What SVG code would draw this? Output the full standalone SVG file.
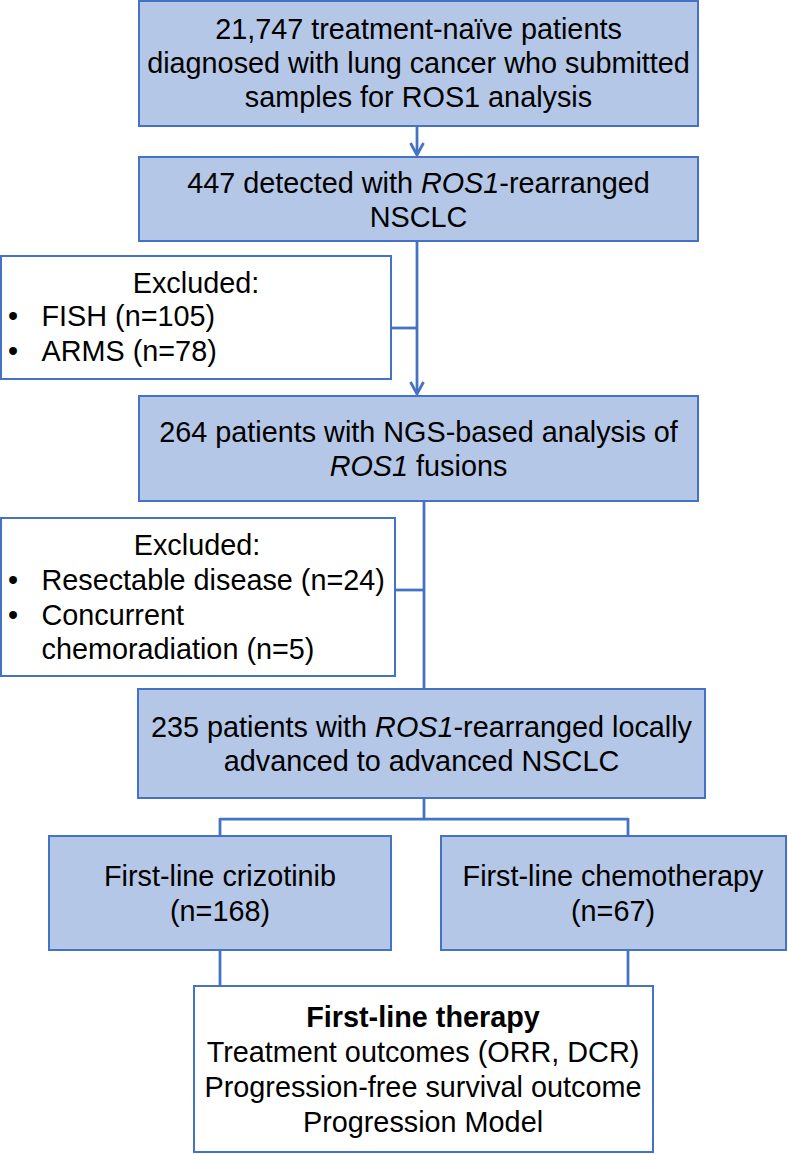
<svg xmlns="http://www.w3.org/2000/svg" width="788" height="1154" viewBox="0 0 788 1154">
<style>
.box{fill:#B4C7E7;stroke:#4472C4;stroke-width:2}
.wbox{fill:#FFFFFF;stroke:#4472C4;stroke-width:2}
.t{font-family:"Liberation Sans",Arial,sans-serif;font-size:28.8px;fill:#000}
.c{text-anchor:middle}
.b{font-weight:bold}
.conn{fill:none;stroke:#4472C4;stroke-width:2.75}
</style>
<defs>
<marker id="arr" viewBox="0 0 16 16" refX="14" refY="8" markerWidth="16" markerHeight="16" markerUnits="userSpaceOnUse" orient="auto">
<path d="M2,1.5 L14,8 L2,14.5" fill="none" stroke="#4472C4" stroke-width="2.75"/>
</marker>
</defs>
<g id="connectors">
<path class="conn" d="M417,126 V155" marker-end="url(#arr)"/>
<path class="conn" d="M417,241 V394" marker-end="url(#arr)"/>
<path class="conn" d="M391,328 H417"/>
<path class="conn" d="M424,501 V689"/>
<path class="conn" d="M395,590 H424"/>
<path class="conn" d="M424,798 V819 M220,819 H628 M220,818 V836 M628,818 V836"/>
<path class="conn" d="M220,950 V986 M628,950 V986"/>
</g>
<g id="n1">
<rect class="box" x="139" y="1" width="559" height="125"/>
<text class="t c" x="418.5" y="39">21,747 treatment-naïve patients</text>
<text class="t c" x="418.5" y="73">diagnosed with lung cancer who submitted</text>
<text class="t c" x="418.5" y="107">samples for ROS1 analysis</text>
</g>
<g id="n2">
<rect class="box" x="139" y="157" width="559" height="84"/>
<text class="t c" x="418.5" y="193">447 detected with <tspan font-style="italic">ROS1</tspan>-rearranged</text>
<text class="t c" x="418.5" y="227">NSCLC</text>
</g>
<g id="ex1">
<rect class="wbox" x="1" y="256" width="390" height="123"/>
<text class="t c" x="196" y="293">Excluded:</text>
<text class="t" x="8" y="326">•</text>
<text class="t" x="41.5" y="326">FISH (n=105)</text>
<text class="t" x="8" y="361">•</text>
<text class="t" x="41.5" y="361">ARMS (n=78)</text>
</g>
<g id="n3">
<rect class="box" x="139" y="396" width="559" height="105"/>
<text class="t c" x="418.5" y="442">264 patients with NGS-based analysis of</text>
<text class="t c" x="418.5" y="476"><tspan font-style="italic">ROS1</tspan> fusions</text>
</g>
<g id="ex2">
<rect class="wbox" x="1" y="518" width="394" height="158"/>
<text class="t c" x="197" y="555">Excluded:</text>
<text class="t" x="8" y="590">•</text>
<text class="t" x="41.5" y="590">Resectable disease (n=24)</text>
<text class="t" x="8" y="625">•</text>
<text class="t" x="41.5" y="625">Concurrent</text>
<text class="t" x="41.5" y="659">chemoradiation (n=5)</text>
</g>
<g id="n4">
<rect class="box" x="138" y="689" width="567" height="109"/>
<text class="t c" x="421.5" y="737">235 patients with <tspan font-style="italic">ROS1</tspan>-rearranged locally</text>
<text class="t c" x="421.5" y="771">advanced to advanced NSCLC</text>
</g>
<g id="n5">
<rect class="box" x="49" y="836" width="342" height="114"/>
<text class="t c" x="220" y="886">First-line crizotinib</text>
<text class="t c" x="220" y="921">(n=168)</text>
</g>
<g id="n6">
<rect class="box" x="441" y="836" width="345" height="114"/>
<text class="t c" x="613" y="886">First-line chemotherapy</text>
<text class="t c" x="613" y="921">(n=67)</text>
</g>
<g id="n7">
<rect class="wbox" x="194" y="986" width="459" height="166"/>
<text class="t c b" x="423" y="1027">First-line therapy</text>
<text class="t c" x="423" y="1062">Treatment outcomes (ORR, DCR)</text>
<text class="t c" x="423" y="1097">Progression-free survival outcome</text>
<text class="t c" x="423" y="1132">Progression Model</text>
</g>
</svg>
